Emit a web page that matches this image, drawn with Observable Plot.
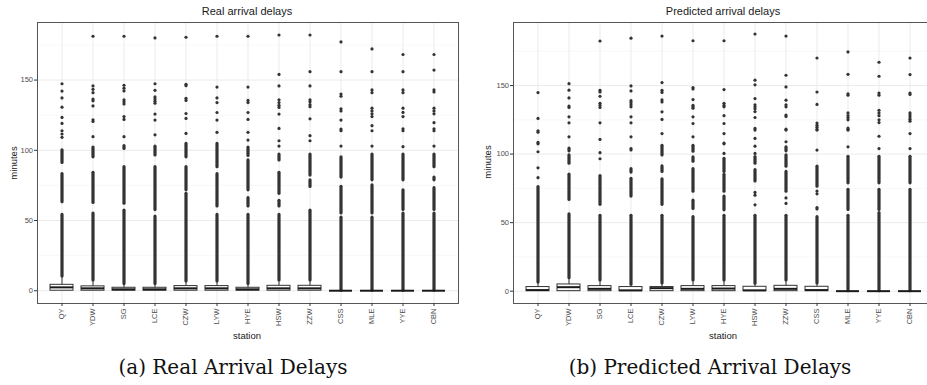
<!DOCTYPE html>
<html><head><meta charset="utf-8">
<script src="https://cdn.jsdelivr.net/npm/d3@7"></script>
<script src="https://cdn.jsdelivr.net/npm/@observablehq/plot@0.6"></script>
<style>
html,body{margin:0;padding:0;background:#fff;overflow:hidden}
#root{position:relative;width:927px;height:385px;overflow:hidden;background:#fff;font-family:"Liberation Sans",Arial,sans-serif}
.panel{position:absolute;top:0}
.panel svg{max-width:none !important}
.lbl{position:absolute;transform:translate(-50%,-50%);white-space:nowrap;color:#1a1a1a;line-height:1}
.title{font-size:11px}
.axt{font-size:9.5px}
.ylab{transform:translate(-50%,-50%) rotate(-90deg)}
.cap{font-family:"DejaVu Serif",serif;font-size:20px;color:#111}
</style></head><body><div id="root"></div>
<script>
// ---- data ----
const stations = ["QY","YDW","SG","LCE","CZW","LYW","HYE","HSW","ZZW","CSS","MLE","YYE","CBN"];
const yMajor = [0, 50, 100, 150];
const yMinor = [25, 75, 125, 175];

// Real arrival delays (minutes)
const realQ1      = [0, 0, 0, 0, 0, 0, 0, 0, 0, 0, 0, 0, 0];
const realMedian  = [2.4, 1.7, 1.0, 1.0, 1.7, 1.7, 1.0, 1.7, 1.7, 0, 0, 0, 0];
const realQ3      = [4.2, 3.1, 2.1, 2.1, 3.3, 3.3, 2.1, 3.5, 3.5, 0, 0, 0, 0];
const realWhisker = [10.1, 7.3, 4.7, 4.7, 6.6, 6.6, 4.7, 7.3, 7.3, 0, 0, 0, 0];
const realDense = [
  [[10.1,54],[63,83],[91,100]],
  [[7.3,55],[62.5,84],[95,102]],
  [[4.7,57],[62,88],[101,103]],
  [[4.7,52.8],[57.4,88],[96.3,102.6]],
  [[6.6,69],[71.5,88],[95,104.5]],
  [[6.6,54],[60,83],[88,104.5]],
  [[4.7,54],[60,66],[71.5,92.8],[96,102]],
  [[7.3,54],[60,64],[69,84],[92.8,97]],
  [[7.3,57],[73.9,78.6],[82,97]],
  [[0,52],[55,74],[80.6,95]],
  [[0,52],[55,75],[78.6,97]],
  [[0,55],[57.5,71.5],[78.6,97]],
  [[0,55],[57.5,73],[78.6,80.6],[88,97]]
];
const realOutliers = [
  [147.4,142.2,137.3,130.7,123.4,119.1,113.9,111.6,109.2],
  [181.2,145.8,143.4,141,136.5,135.2,131.6,121.7,120.5,109.7],
  [181.2,146.3,144.2,142.3,136,134.5,133,124,122,109.7],
  [180,147.4,142.7,138,136.5,135,133.5,125.8,121.5,111],
  [180.5,147,146,137,135.5,126.2,122.7,112],
  [181.2,145,137.3,134,126.9,121.5,112.8],
  [181.2,145,135.5,134,126.9,122,112.8,107.3],
  [182.1,154,145.8,136,134,132,130.5,125.8,115.6,106.8,103],
  [182.1,156,145.8,136,134.5,132.5,131,122.4,110.4,106.8],
  [177.2,156,140,138.5,129.5,128,121.5,115.1,114,103],
  [172.2,156,143,141,130,128,126,124,117.5,113.9,103],
  [168.2,156,143,141,130,127,124,115.3,113.9,102.6],
  [168.2,157.1,143,141.5,130,128,126,119.7,115.3,113.9,103]
];

// Predicted arrival delays (minutes)
const predQ1      = [0, 0, 0, 0, 0, 0, 0, 0, 0, 0, 0, 0, 0];
const predMedian  = [0.8, 2.9, 1.7, 0.6, 2.2, 1.7, 1.9, 0.6, 1.7, 0.8, 0, 0, 0];
const predQ3      = [3.0, 4.9, 3.7, 3.0, 3.0, 3.7, 3.7, 3.2, 3.9, 3.2, 0, 0, 0];
const predWhisker = [6.3, 9.5, 7.8, 4.7, 5.6, 7.8, 7.8, 5.4, 7.8, 5.6, 0, 0, 0];
const predDense = [
  [[6.3,76]],
  [[9.5,56],[66.5,85],[93,99],[102,104]],
  [[7.8,55],[63,84]],
  [[4.7,55],[69,82],[86.5,89]],
  [[5.6,55],[63,81.6],[87,91],[99,106]],
  [[7.8,54],[60,66],[72.6,89],[94.5,97.6],[101.7,106]],
  [[7.8,55],[59,69],[72.6,84.9],[87,96.6]],
  [[5.4,55],[80,88.3],[93,97.8]],
  [[7.8,55],[72.6,87],[90.8,99],[102,105]],
  [[5.6,54],[76.2,90.8]],
  [[0,55],[59.3,74],[78.7,98]],
  [[0,57],[59.3,74],[78.7,98]],
  [[0,74],[78.7,98]]
];
const predOutliers = [
  [144.9,126,117,116,108.5,107.5,101.7,90,82.8],
  [151.4,146.6,141,135,134,127.2,122.8,112.6],
  [182.5,146.5,145.3,142.2,137,135.5,134,122.8,110.7,101,96.6],
  [184.6,149.7,146.1,139,137.5,136,134.5,127.2,122.8,112.6,104,103],
  [186.1,152.2,146.5,145,139.5,138,130.8,125.3,115],
  [182.7,148.5,147.5,139.8,135.5,134.5,133.5,127.2,122.3,112.6],
  [182.7,147.1,137,135.5,134.5,128,122.3,115,108,107.5,100.5],
  [187.6,153.9,150.5,140.5,136,134.5,133,131,126.7,118.7,117.5,111.4,105.8,100.5,72,70,63],
  [186.1,157.5,149,139.3,136,134.5,128.5,127.5,118.2,117.5,109,68,64],
  [170.1,145.3,136.2,122.6,121,119.5,118,117.5,102.9,73,71,61,60],
  [174.5,158.2,144,143,130,128,126.5,125,119,118,117.5,105.3],
  [167,156.8,144.5,143,132,130,128,125,123,113,104],
  [170.1,158,144.5,143.5,130,128.5,127,125.5,124,115,104]
];

// ---- drawing ----
function panel(cfg) {
  const boxes = stations.map((s, i) => ({station: s, q1: cfg.q1[i], median: cfg.med[i], q3: cfg.q3[i], whisker: cfg.whi[i]}));
  const runs = stations.flatMap((s, i) => cfg.dense[i].map(([lo, hi]) => ({station: s, lo, hi})));
  const pts = stations.flatMap((s, i) => cfg.outs[i].map(v => ({station: s, value: v})));
  return Plot.plot({
    width: cfg.width, height: 330,
    marginTop: 22, marginBottom: 27, marginLeft: cfg.marginLeft, marginRight: cfg.marginRight,
    style: {background: "transparent", fontFamily: "Liberation Sans, Arial, sans-serif", overflow: "visible", maxWidth: "none"},
    x: {type: "band", domain: stations, paddingInner: 0.25, paddingOuter: 0.225, label: null},
    y: {domain: cfg.domain, label: null},
    marks: [
      Plot.gridY(yMinor, {stroke: "#f3f3f3", strokeOpacity: 1, strokeWidth: 0.6}),
      Plot.gridY(yMajor, {stroke: "#ebebeb", strokeOpacity: 1, strokeWidth: 1}),
      Plot.gridX(stations, {stroke: "#ebebeb", strokeOpacity: 1, strokeWidth: 1}),
      Plot.ruleX(boxes, {x: "station", y1: "q1", y2: "whisker", stroke: "#333", strokeWidth: 1}),
      Plot.ruleX(runs, {x: "station", y1: "lo", y2: "hi", stroke: "#333", strokeWidth: 3.2, strokeLinecap: "round"}),
      Plot.dot(pts, {x: "station", y: "value", r: 1.6, fill: "#333", stroke: null}),
      Plot.barY(boxes, {x: "station", y1: "q1", y2: "q3", fill: "white", stroke: "#333", strokeWidth: 1}),
      Plot.tickY(boxes, {x: "station", y: "median", stroke: "#1a1a1a", strokeWidth: 2}),
      Plot.frame({stroke: "#555", strokeWidth: 1}),
      Plot.axisY(yMajor, {tickSize: 3, tickPadding: 1.5, fontSize: 7.5, fill: "#4d4d4d", stroke: "#333", label: null}),
      Plot.axisX({tickRotate: -90, tickSize: 3, tickPadding: 2, fontSize: 7.5, fill: "#4d4d4d", stroke: "#333", label: null})
    ]
  });
}

const root = document.getElementById("root");
function addPanel(svg, left, width) {
  const d = document.createElement("div");
  d.className = "panel";
  d.style.left = left + "px";
  d.style.width = width + "px";
  svg.style.maxWidth = "none";
  d.appendChild(svg);
  root.appendChild(d);
}
function addLabel(text, x, y, cls) {
  const d = document.createElement("div");
  d.className = "lbl " + cls;
  d.style.left = x + "px";
  d.style.top = y + "px";
  d.textContent = text;
  root.appendChild(d);
}

addPanel(panel({width: 470, marginLeft: 37, marginRight: 12, domain: [-9.1, 191],
  q1: realQ1, med: realMedian, q3: realQ3, whi: realWhisker, dense: realDense, outs: realOutliers}), 0, 470);
addPanel(panel({width: 484, marginLeft: 53, marginRight: 10, domain: [-9, 196],
  q1: predQ1, med: predMedian, q3: predQ3, whi: predWhisker, dense: predDense, outs: predOutliers}), 460, 484);

addLabel("Real arrival delays", 247, 11, "title");
addLabel("Predicted arrival delays", 723, 11, "title");
addLabel("minutes", 13.5, 163, "axt ylab");
addLabel("minutes", 488, 162, "axt ylab");
addLabel("station", 247, 336, "axt");
addLabel("station", 723, 336, "axt");
addLabel("(a) Real Arrival Delays", 233, 367, "cap");
addLabel("(b) Predicted Arrival Delays", 710, 367, "cap");
</script></body></html>
